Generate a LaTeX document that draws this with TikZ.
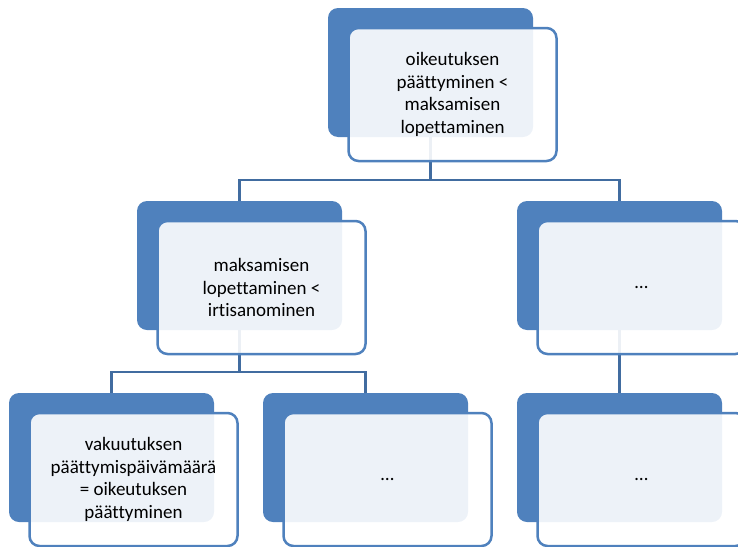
\documentclass[tikz,border=0pt]{standalone}
\usepackage{fontspec}
\setmainfont{Carlito}[RawFeature=-liga]
\definecolor{accent}{RGB}{79,129,189}
\definecolor{linkblue}{RGB}{65,108,160}
\begin{document}
\begin{tikzpicture}[x=1pt,y=-1pt,
  back/.style={fill=accent,draw=none,rounded corners=10pt,
    minimum width=205pt,minimum height=129pt,inner sep=0pt},
  front/.style={fill=white,fill opacity=0.9,text opacity=1,draw=accent,
    line width=2.5pt,rounded corners=10pt,minimum width=208pt,
    minimum height=133pt,inner sep=0pt,align=center,
    font=\fontsize{19}{22.5}\selectfont},
  conn/.style={draw=linkblue,line width=2.5pt}]
\useasboundingbox (0,0) rectangle (738,546);
% back plates (centres)
\node[back] (b0) at (430.5,72.5) {};
\node[back] (b1) at (239.5,265.5) {};
\node[back] (b2) at (619.5,265.5) {};
\node[back] (b3) at (111.5,457.5) {};
\node[back] (b4) at (365.5,457.5) {};
\node[back] (b5) at (619.5,457.5) {};
% elbow levels of the connectors
\coordinate (h0) at (430.5,180);
\coordinate (h1) at (239.5,372);
\draw[conn] (b0.south) |- (h0) -| (b1.north);
\draw[conn] (h0) -| (b2.north);
\draw[conn] (b1.south) |- (h1) -| (b3.north);
\draw[conn] (h1) -| (b4.north);
\draw[conn] (b2.south) -- (b5.north);
% front cards with the labels
\node[front] (f0) at ([shift={(22,22)}]b0.center) {oikeutuksen\\päättyminen <\\maksamisen\\lopettaminen};
\node[front] (f1) at ([shift={(22,22)}]b1.center) {maksamisen\\lopettaminen <\\irtisanominen};
\node[front] (f2) at ([shift={(22,22)}]b2.center) {…};
\node[front] (f3) at ([shift={(22,22)}]b3.center) {vakuutuksen\\päättymispäivämäärä\\= oikeutuksen\\päättyminen};
\node[front] (f4) at ([shift={(22,22)}]b4.center) {…};
\node[front] (f5) at ([shift={(22,22)}]b5.center) {…};
\end{tikzpicture}
\end{document}
